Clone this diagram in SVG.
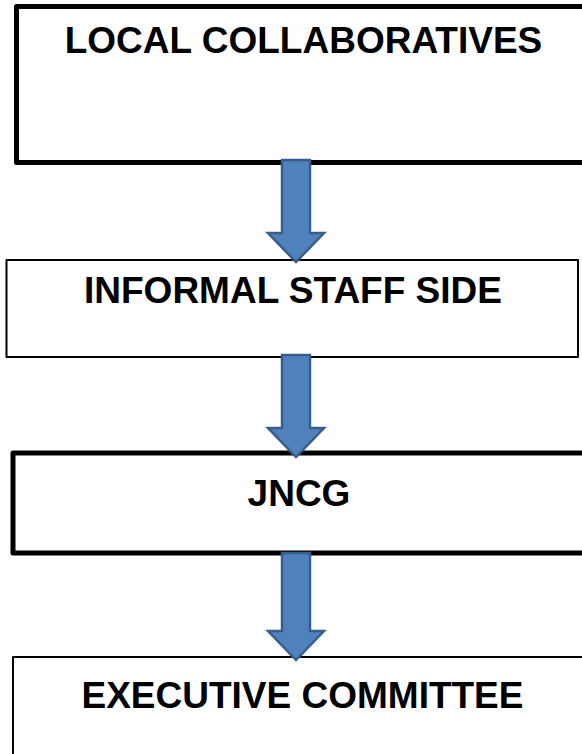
<svg xmlns="http://www.w3.org/2000/svg" width="582" height="754" viewBox="0 0 582 754">
<style>
.box{fill:#fff;stroke:#000;stroke-linejoin:round}
.thick{stroke-width:5}
.thin{stroke-width:2}
.lbl{font-family:"Liberation Sans",Arial,sans-serif;font-weight:bold;font-size:37px;fill:#000;text-anchor:middle}
.arrow{fill:#4F81BD;stroke:#385D8A;stroke-width:2.5;stroke-linejoin:miter}
</style>
<rect width="582" height="754" fill="#fff"/>
<g id="local-collaboratives">
<rect class="box thick" x="16.5" y="6.5" width="580" height="156"/>
<text class="lbl" x="303.5" y="53">LOCAL COLLABORATIVES</text>
</g>
<g id="informal-staff-side">
<rect class="box thin" x="6.5" y="260" width="571.5" height="97"/>
<text class="lbl" x="293" y="303">INFORMAL STAFF SIDE</text>
</g>
<g id="jncg">
<rect class="box thick" x="13" y="453" width="580" height="100"/>
<text class="lbl" x="299" y="506">JNCG</text>
</g>
<g id="executive-committee">
<rect class="box thin" x="13" y="657" width="580" height="120"/>
<text class="lbl" x="302.5" y="708">EXECUTIVE COMMITTEE</text>
</g>
<g id="connectors">
<path class="arrow" d="M282,160 H310 V233 H324 L296,262 L268,233 H282 Z"/>
<path class="arrow" d="M282,355 H310 V428 H324 L296,457 L268,428 H282 Z"/>
<path class="arrow" d="M282,553 H310 V631 H324 L296,660 L268,631 H282 Z"/>
</g>
</svg>
